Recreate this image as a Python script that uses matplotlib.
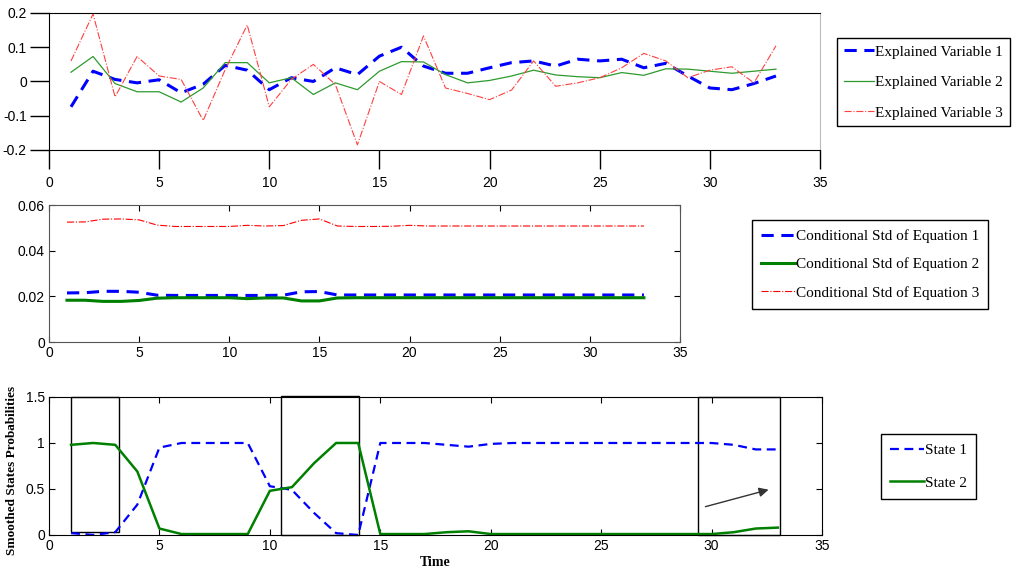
import matplotlib
matplotlib.use('Agg')
import matplotlib.pyplot as plt
from matplotlib.patches import Rectangle

# data
t = list(range(1, 34))

var1 = [-0.074, 0.030, 0.006, -0.004, 0.005, -0.033, -0.008, 0.047, 0.033, -0.024,
        0.011, 0.000, 0.040, 0.020, 0.074, 0.100, 0.045, 0.024, 0.024, 0.040,
        0.055, 0.060, 0.045, 0.065, 0.060, 0.065, 0.040, 0.053, 0.016, -0.019,
        -0.024, -0.006, 0.016]
var2 = [0.027, 0.073, -0.006, -0.030, -0.030, -0.060, -0.019, 0.055, 0.055, -0.004,
        0.011, -0.038, -0.004, -0.024, 0.030, 0.058, 0.057, 0.020, -0.004, 0.003,
        0.016, 0.033, 0.019, 0.014, 0.011, 0.026, 0.018, 0.037, 0.036, 0.030,
        0.024, 0.030, 0.036]
var3 = [0.060, 0.197, -0.045, 0.073, 0.016, 0.006, -0.114, 0.035, 0.165, -0.074,
        0.006, 0.050, -0.009, -0.185, 0.000, -0.038, 0.133, -0.019, -0.035, -0.053,
        -0.025, 0.060, -0.014, -0.004, 0.011, 0.040, 0.082, 0.060, 0.011, 0.033,
        0.043, -0.004, 0.104]

std1 = [0.0215, 0.0216, 0.0222, 0.0222, 0.0218, 0.0205, 0.0204, 0.0204, 0.0204, 0.0204,
        0.0204, 0.0204, 0.0205, 0.0220, 0.0221, 0.0206, 0.0206, 0.0206, 0.0206, 0.0206,
        0.0206, 0.0206, 0.0206, 0.0206, 0.0206, 0.0206, 0.0206, 0.0206, 0.0206, 0.0206,
        0.0206, 0.0206, 0.0206]
std2 = [0.0183, 0.0183, 0.0178, 0.0178, 0.0182, 0.0192, 0.0194, 0.0194, 0.0194, 0.0194,
        0.0190, 0.0193, 0.0193, 0.0180, 0.0180, 0.0193, 0.0194, 0.0194, 0.0194, 0.0194,
        0.0194, 0.0194, 0.0194, 0.0194, 0.0194, 0.0194, 0.0194, 0.0194, 0.0194, 0.0194,
        0.0194, 0.0194, 0.0194]
std3 = [0.0525, 0.0526, 0.0538, 0.0539, 0.0535, 0.0512, 0.0506, 0.0506, 0.0506, 0.0506,
        0.0511, 0.0508, 0.0510, 0.0533, 0.0539, 0.0508, 0.0506, 0.0506, 0.0507, 0.0511,
        0.0508, 0.0508, 0.0508, 0.0508, 0.0508, 0.0508, 0.0508, 0.0508, 0.0508, 0.0508,
        0.0508, 0.0508, 0.0508]

state1 = [0.02, 0.00, 0.03, 0.33, 0.95, 1.00, 1.00, 1.00, 1.00, 0.53,
          0.49, 0.24, 0.02, 0.00, 1.00, 1.00, 1.00, 0.98, 0.96, 0.99,
          1.00, 1.00, 1.00, 1.00, 1.00, 1.00, 1.00, 1.00, 1.00, 1.00,
          0.98, 0.93, 0.93]
state2 = [0.98, 1.00, 0.98, 0.69, 0.07, 0.01, 0.01, 0.01, 0.01, 0.48,
          0.52, 0.78, 1.00, 1.00, 0.01, 0.01, 0.01, 0.03, 0.04, 0.01,
          0.01, 0.01, 0.01, 0.01, 0.01, 0.01, 0.01, 0.01, 0.01, 0.01,
          0.03, 0.07, 0.08]

# highlighted regimes in the bottom panel: (x0, x1, y0, y1)
boxes = [(1.0, 3.15, 0.03, 1.5), (10.5, 14.05, 0.0, 1.51), (29.4, 33.1, 0.0, 1.5)]

tickfont = 'Liberation Sans'
legfont = {'family': 'Liberation Serif', 'size': 11}


def add_legend(ax, x, y, spacing, hl=2.2, bp=0.6):
    ax.legend(loc='upper left', bbox_to_anchor=(x / 1014, 1 - y / 569), bbox_transform=fig.transFigure,
              prop=legfont, frameon=True, fancybox=False, edgecolor='black', framealpha=1,
              handlelength=hl, handletextpad=0.05, labelspacing=spacing, borderpad=bp,
              borderaxespad=0)


fig = plt.figure(figsize=(10.14, 5.69), dpi=100)

# ---- panel 1
ax1 = fig.add_axes([0.0483, 0.7364, 0.7604, 0.2408])
ax1.plot(t, var1, '--', color='blue', linewidth=2.2, dashes=(4, 2.5), label='Explained Variable 1')
ax1.plot(t, var2, '-', color='#2e9a2e', linewidth=0.9, label='Explained Variable 2')
ax1.plot(t, var3, '-.', color='#ff4040', linewidth=0.8, label='Explained Variable 3')
ax1.set_xlim(0, 35)
ax1.set_ylim(-0.2, 0.2)
ax1.set_xticks([0, 5, 10, 15, 20, 25, 30, 35])
ax1.set_yticks([-0.2, -0.1, 0, 0.1, 0.2])
ax1.set_yticklabels(['-0.2', '-0.1', '0', '0.1', '0.2'])
ax1.tick_params(direction='out', length=14, width=1, labelsize=10, pad=2)
ax1.tick_params(axis='x', pad=5)
ax1.spines['right'].set_color('#bbbbbb')
add_legend(ax1, 837, 38, 1.1, hl=2.0, bp=0.45)

# ---- panel 2
ax2 = fig.add_axes([0.0483, 0.3989, 0.6223, 0.2408])
ax2.plot(t, std1, '--', color='blue', linewidth=2.2, dashes=(4, 2.5), label='Conditional Std of Equation 1')
ax2.plot(t, std2, '-', color='green', linewidth=2.2, label='Conditional Std of Equation 2')
ax2.plot(t, std3, '-.', color='red', linewidth=0.8, label='Conditional Std of Equation 3')
ax2.set_xlim(0, 35)
ax2.set_ylim(0, 0.06)
ax2.set_xticks([0, 5, 10, 15, 20, 25, 30, 35])
ax2.set_yticks([0, 0.02, 0.04, 0.06])
ax2.set_yticklabels(['0', '0.02', '0.04', '0.06'])
ax2.tick_params(direction='in', length=4, labelsize=10, top=True, right=True, pad=3)
for s in ax2.spines.values():
    s.set_color('#555555')
add_legend(ax2, 752, 220, 0.95)

# ---- panel 3
ax3 = fig.add_axes([0.0483, 0.0598, 0.7624, 0.2425])
ax3.plot(t, state1, '--', color='blue', linewidth=1.6, dashes=(4, 2.5), label='State 1')
ax3.plot(t, state2, '-', color='green', linewidth=1.8, label='State 2')
for x0, x1, y0, y1 in boxes:
    ax3.add_patch(Rectangle((x0, y0), x1 - x0, y1 - y0, fill=False, edgecolor='black',
                            linewidth=1, clip_on=False))
ax3.annotate('', xy=(32.7, 0.5), xytext=(29.6, 0.3),
             arrowprops=dict(arrowstyle='-|>', color='#333333', lw=1, mutation_scale=14))
ax3.set_xlim(0, 35)
ax3.set_ylim(0, 1.5)
ax3.set_xticks([0, 5, 10, 15, 20, 25, 30, 35])
ax3.set_yticks([0, 0.5, 1, 1.5])
ax3.set_yticklabels(['0', '0.5', '1', '1.5'])
ax3.tick_params(direction='in', length=4, labelsize=10, top=True, right=True, pad=3)
add_legend(ax3, 881, 434, 1.25)

for ax in (ax1, ax2, ax3):
    for lab in ax.get_xticklabels() + ax.get_yticklabels():
        lab.set_family(tickfont)

fig.text(12 / 1014, 1 - 470 / 569, 'Smoothed States Probabilities', rotation=90, ha='center',
         va='center', family='Liberation Serif', weight='bold', fontsize=9.5)
fig.text(435 / 1014, 1 - 562 / 569, 'Time', ha='center', va='center',
         family='Liberation Serif', weight='bold', fontsize=10)

fig.savefig('out.png', dpi=100)
